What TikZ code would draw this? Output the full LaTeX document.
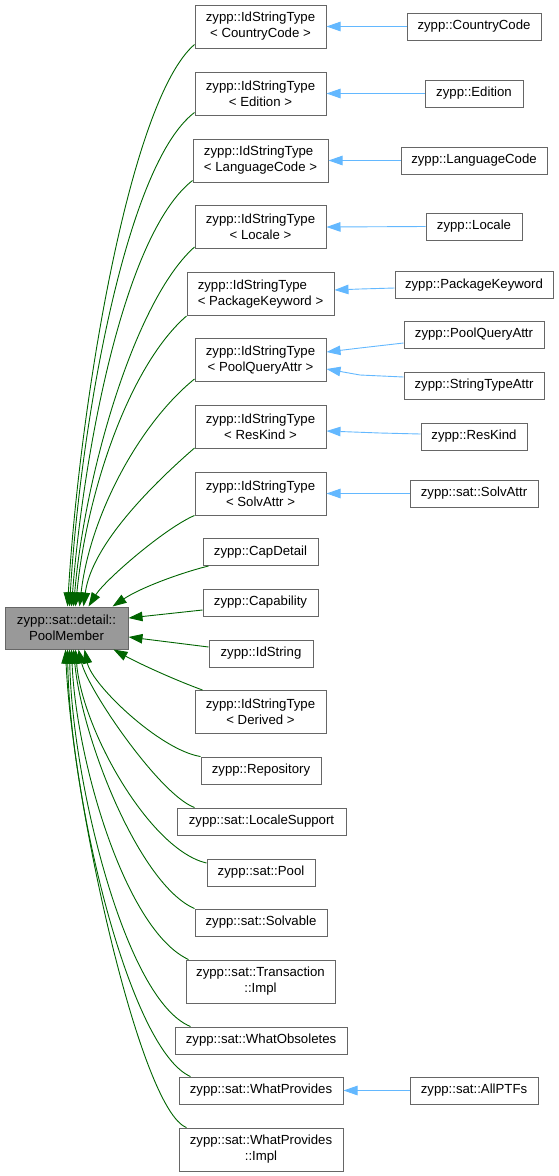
\documentclass[tikz,border=0pt]{standalone}
\usepackage{fontspec}
\setmainfont{Liberation Sans}
\usetikzlibrary{arrows.meta,calc}
\definecolor{gedge}{HTML}{006400}
\definecolor{bedge}{HTML}{63B8FF}
\definecolor{bord}{HTML}{666666}
\definecolor{pmfill}{HTML}{999999}
\begin{document}
\begin{tikzpicture}[x=1pt,y=-1pt,
  box/.style={draw=bord, line width=1pt, rectangle, inner sep=0pt, fill=white,
    font=\fontsize{13.2}{16}\selectfont, align=center, text=black},
  one/.style={box, minimum height=27pt},
  two/.style={box, minimum height=43pt},
  ge/.style={draw=gedge, line width=0.9pt, -{Triangle[length=14pt,width=9.5pt]}},
  be/.style={draw=bedge, line width=0.9pt, -{Triangle[length=14pt,width=9.5pt]}}]
\useasboundingbox (0,0) rectangle (559,1176);
% base class
\node[two, fill=pmfill, minimum width=123pt, minimum height=42pt] (pm) at (66.5,628) {zypp::sat::detail::\\PoolMember};
% middle column
\node[two, minimum width=131pt] (m1) at (260.5,26.5) {zypp::IdStringType\\< CountryCode >};
\node[two, minimum width=131pt] (m2) at (260.5,93.5) {zypp::IdStringType\\< Edition >};
\node[two, minimum width=135pt, align=left] (m3) at (260.5,160.5) {zypp::IdStringType\\< LanguageCode >};
\node[two, minimum width=131pt] (m4) at (260.5,227) {zypp::IdStringType\\< Locale >};
\node[two, minimum width=147pt, align=left] (m5) at (260.5,294) {zypp::IdStringType\\< PackageKeyword >};
\node[two, minimum width=131pt] (m6) at (260.5,360) {zypp::IdStringType\\< PoolQueryAttr >};
\node[two, minimum width=131pt] (m7) at (260.5,427) {zypp::IdStringType\\< ResKind >};
\node[two, minimum width=131pt] (m8) at (260.5,493.5) {zypp::IdStringType\\< SolvAttr >};
\node[one, minimum width=115pt] (m9) at (260.5,552) {zypp::CapDetail};
\node[one, minimum width=115pt] (m10) at (260.5,602.5) {zypp::Capability};
\node[one, minimum width=104pt] (m11) at (261,653.5) {zypp::IdString};
\node[two, minimum width=131pt] (m12) at (260.5,712) {zypp::IdStringType\\< Derived >};
\node[one, minimum width=120pt] (m13) at (261,770.5) {zypp::Repository};
\node[one, minimum width=169pt] (m14) at (261.5,821.5) {zypp::sat::LocaleSupport};
\node[one, minimum width=108pt] (m15) at (261,872.5) {zypp::sat::Pool};
\node[one, minimum width=132pt] (m16) at (261,922.5) {zypp::sat::Solvable};
\node[two, minimum width=149pt] (m17) at (260.5,981.5) {zypp::sat::Transaction\\::Impl};
\node[one, minimum width=172pt] (m18) at (261,1040.5) {zypp::sat::WhatObsoletes};
\node[one, minimum width=164pt] (m19) at (261,1090.5) {zypp::sat::WhatProvides};
\node[two, minimum width=164pt] (m20) at (261,1149.5) {zypp::sat::WhatProvides\\::Impl};
% right column
\node[one, minimum width=134pt] (r1) at (474,26.5) {zypp::CountryCode};
\node[one, minimum width=98pt] (r2) at (474,93.5) {zypp::Edition};
\node[one, minimum width=146pt] (r3) at (474,160.5) {zypp::LanguageCode};
\node[one, minimum width=96pt] (r4) at (474,226.5) {zypp::Locale};
\node[one, minimum width=158pt] (r5) at (474,285) {zypp::PackageKeyword};
\node[one, minimum width=140pt] (r6) at (474,334.5) {zypp::PoolQueryAttr};
\node[one, minimum width=140pt] (r7) at (474,385.5) {zypp::StringTypeAttr};
\node[one, minimum width=106pt] (r8) at (474,436.5) {zypp::ResKind};
\node[one, minimum width=128pt] (r9) at (474,493.5) {zypp::sat::SolvAttr};
\node[one, minimum width=128pt] (r10) at (474,1090.5) {zypp::sat::AllPTFs};
% blue edges
\draw[be] (r1.west) -- (m1.east);
\draw[be] (r2.west) -- (m2.east);
\draw[be] (r3.west) -- (m3.east);
\draw[be] (r4.west) -- (m4.east);
\draw[be] ($(r5.west)+(0,3)$) -- (360,289) -- ($(m5.east)+(0,-4)$);
\draw[be] ($(r6.west)+(0,8.5)$) -- (360,348) -- ($(m6.east)+(0,-8)$);
\draw[be] ($(r7.west)+(0,-8.5)$) -- (360,375) -- ($(m6.east)+(0,9)$);
\draw[be] ($(r8.west)+(0,-2.5)$) -- (380,433) -- ($(m7.east)+(0,4)$);
\draw[be] (r9.west) -- (m8.east);
\draw[be] (r10.west) -- (m19.east);
% green edges, upper group
\draw[ge] ($(m1.south west)+(0,-4)$) .. controls (130,100) and (80,400) .. ($(pm.north west)+(63,0)$);
\draw[ge] ($(m2.south west)+(0,-3)$) .. controls (125,165) and (80,430) .. ($(pm.north west)+(65,0)$);
\draw[ge] ($(m3.south west)+(0,-2)$) .. controls (123,235) and (83,457) .. ($(pm.north west)+(67,0)$);
\draw[ge] ($(m4.south west)+(0,-2)$) .. controls (135,300) and (85,473) .. ($(pm.north west)+(69,0)$);
\draw[ge] (m5.south west) .. controls (130,365) and (87,490) .. ($(pm.north west)+(71,0)$);
\draw[ge] ($(m6.south west)+(0,-3)$) .. controls (140,423) and (90,515) .. ($(pm.north west)+(75,0)$);
\draw[ge] ($(m7.south west)+(0,-1)$) .. controls (160,478) and (92,542) .. ($(pm.north west)+(79,0)$);
\draw[ge] (m8.south west) .. controls (165,528) and (105,580) .. ($(pm.north west)+(84,0)$);
\draw[ge] ($(m9.south west)+(6,0)$) .. controls (180,573) and (140,588) .. ($(pm.north west)+(108,0)$);
\draw[ge] ($(m10.west)+(0,7.5)$) -- ($(pm.east)+(0,-10)$);
\draw[ge] ($(m11.west)+(0,-6.5)$) -- ($(pm.east)+(0,9)$);
\draw[ge] ($(m12.north west)+(8,0)$) .. controls (175,680) and (140,664) .. ($(pm.south west)+(109,0)$);
% green edges, lower group
\draw[ge] (m13.north west) .. controls (160,750) and (92,685) .. ($(pm.south west)+(80,0)$);
\draw[ge] ($(m14.north west)+(18,0)$) .. controls (160,795) and (88,690) .. ($(pm.south west)+(74,0)$);
\draw[ge] ($(m15.west)+(0,-9.5)$) .. controls (150,850) and (82,730) .. ($(pm.south west)+(71,0)$);
\draw[ge] (m16.north west) .. controls (140,885) and (82,740) .. ($(pm.south west)+(69,0)$);
\draw[ge] ($(m17.north west)+(3,0)$) .. controls (125,930) and (76,760) .. ($(pm.south west)+(67,0)$);
\draw[ge] ($(m18.north west)+(16,0)$) .. controls (125,1000) and (72,780) .. ($(pm.south west)+(65,0)$);
\draw[ge] ($(m19.north west)+(12,0)$) .. controls (130,1050) and (70,800) .. ($(pm.south west)+(63,0)$);
\draw[ge] ($(m20.north west)+(8,0)$) .. controls (140,1110) and (72,800) .. ($(pm.south west)+(61,0)$);
\end{tikzpicture}
\end{document}
